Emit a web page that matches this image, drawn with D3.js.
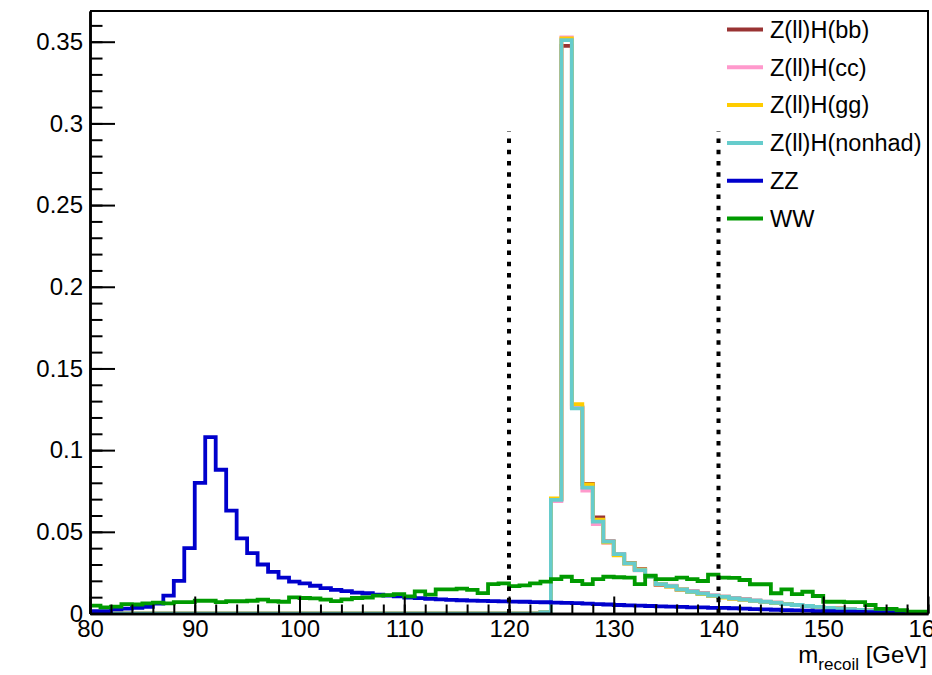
<!DOCTYPE html>
<html>
<head>
<meta charset="utf-8">
<script src="https://cdn.jsdelivr.net/npm/d3@7"></script>
<style>
  html, body { margin: 0; padding: 0; background: #fff; }
  svg { display: block; font-family: "Liberation Sans", Arial, Helvetica, sans-serif; }
</style>
</head>
<body>
<svg id="chart" width="932" height="675"></svg>
<script>
// Recoil-mass distributions, 1 GeV bins from 80 to 160 GeV (normalised)
const binEdgesLow = d3.range(80, 160, 1); // lower edge of every bin
const xMax = 160;

const zhBB = [
  0,0,0,0,0,0,0,0,0,0, 0,0,0,0,0,0,0,0,0,0, 0,0,0,0,0,0,0,0,0,0, 0,0,0,0,0,0,0,0,0,0, 0,0,0,
  0.0007,0.0698,0.3475,0.1262,0.0793,0.0588,0.0442,0.0362,0.0309,0.0272,0.0226,0.0176,0.0166,0.0146,0.0135,
  0.0123,0.0109,0.0103,0.0093,0.0086,0.0079,0.0071,0.0066,0.0059,0.0051,0.0047,0.0041,0.0035,0.0031,0.0026,
  0.0022,0.0019,0.0015,0.0012,0.0009,0.0007,0.0005
];
const zhCC = [
  0,0,0,0,0,0,0,0,0,0, 0,0,0,0,0,0,0,0,0,0, 0,0,0,0,0,0,0,0,0,0, 0,0,0,0,0,0,0,0,0,0, 0,0,0,
  0.0008,0.0688,0.3526,0.1258,0.0752,0.0548,0.0432,0.0362,0.0305,0.0264,0.0224,0.0179,0.0170,0.0150,0.0136,
  0.0121,0.0111,0.0101,0.0091,0.0085,0.0079,0.0072,0.0064,0.0058,0.0053,0.0046,0.0040,0.0034,0.0030,0.0026,
  0.0022,0.0018,0.0015,0.0012,0.0009,0.0006,0.0005
];
const zhGG = [
  0,0,0,0,0,0,0,0,0,0, 0,0,0,0,0,0,0,0,0,0, 0,0,0,0,0,0,0,0,0,0, 0,0,0,0,0,0,0,0,0,0, 0,0,0,
  0.0008,0.0705,0.3520,0.1282,0.0790,0.0575,0.0436,0.0356,0.0306,0.0268,0.0224,0.0179,0.0165,0.0147,0.0131,
  0.0119,0.0108,0.0098,0.0090,0.0084,0.0077,0.0071,0.0064,0.0057,0.0051,0.0046,0.0040,0.0034,0.0030,0.0025,
  0.0021,0.0018,0.0014,0.0011,0.0009,0.0007,0.0005
];
const zhNonhad = [
  0,0,0,0,0,0,0,0,0,0, 0,0,0,0,0,0,0,0,0,0, 0,0,0,0,0,0,0,0,0,0, 0,0,0,0,0,0,0,0,0,0, 0,0,0,
  0.0008,0.0695,0.3510,0.1256,0.0770,0.0562,0.0440,0.0364,0.0307,0.0266,0.0225,0.0180,0.0168,0.0148,0.0133,
  0.0122,0.0110,0.0102,0.0092,0.0085,0.0078,0.0072,0.0065,0.0058,0.0052,0.0046,0.0040,0.0035,0.0030,0.0026,
  0.0022,0.0018,0.0015,0.0012,0.0009,0.0007,0.0005
];
const zz = [
  0.0015,0.0015,0.0025,0.0030,0.0035,0.0040,0.0060,0.0110,0.0200,0.0400,
  0.0800,0.1080,0.0880,0.0630,0.0460,0.0370,0.0300,0.0255,0.0220,0.0195,
  0.0185,0.0170,0.0155,0.0145,0.0137,0.0128,0.0124,0.0115,0.0110,0.0105,
  0.0098,0.0094,0.0090,0.0086,0.0083,0.0081,0.0079,0.0077,0.0076,0.0074,
  0.0073,0.0072,0.0070,0.0069,0.0067,0.0065,0.0063,0.0060,0.0058,0.0055,
  0.0052,0.0050,0.0048,0.0046,0.0044,0.0042,0.0040,0.0038,0.0037,0.0035,
  0.0034,0.0032,0.0030,0.0027,0.0025,0.0023,0.0021,0.0019,0.0017,0.0015,
  0.0014,0.0012,0.0011,0.0010,0.0009,0.0007,0.0006,0.0005,0.0003,0.0002
];
const ww = [
  0.0048,0.0038,0.0042,0.0058,0.0055,0.0062,0.0066,0.0062,0.0070,0.0070,
  0.0078,0.0078,0.0070,0.0075,0.0075,0.0078,0.0085,0.0075,0.0072,0.0099,
  0.0095,0.0092,0.0085,0.0076,0.0087,0.0095,0.0098,0.0110,0.0113,0.0118,
  0.0105,0.0135,0.0115,0.0148,0.0148,0.0152,0.0145,0.0125,0.0180,0.0185,
  0.0168,0.0172,0.0185,0.0195,0.0210,0.0225,0.0199,0.0180,0.0210,0.0225,
  0.0222,0.0220,0.0180,0.0231,0.0210,0.0210,0.0219,0.0210,0.0199,0.0238,
  0.0219,0.0218,0.0205,0.0179,0.0179,0.0124,0.0148,0.0118,0.0133,0.0107,
  0.0072,0.0072,0.0070,0.0070,0.0052,0.0028,0.0028,0.0020,0.0011,0.0011
];

const seriesNames  = ["Z(ll)H(bb)", "Z(ll)H(cc)", "Z(ll)H(gg)", "Z(ll)H(nonhad)", "ZZ", "WW"];
const seriesColors = ["#993333", "#ff99cc", "#ffcc00", "#66cccc", "#0000cc", "#009a00"];
const seriesValues = [zhBB, zhCC, zhGG, zhNonhad, zz, ww];

const xMajorTicks = [80, 90, 100, 110, 120, 130, 140, 150, 160];
const xMinorTicks = d3.range(80, 161, 2);
const yMajorTicks = [0, 0.05, 0.1, 0.15, 0.2, 0.25, 0.3, 0.35];
const yTickLabels = ["0", "0.05", "0.1", "0.15", "0.2", "0.25", "0.3", "0.35"];
const yMinorTicks = d3.range(0, 37).map(i => i / 100);
const cutEdges = [120, 140];
const cutHeight = 0.295;

// ---- layout ----
const svg = d3.select("#chart");
const W = 932, H = 675;
const plot = { left: 90, right: 928, top: 11, bottom: 613.5 };

svg.append("rect").attr("width", W).attr("height", H).attr("fill", "#fff");

const x = d3.scaleLinear().domain([80, 160]).range([plot.left, plot.right]);
const y = d3.scaleLinear().domain([0, 0.3688]).range([plot.bottom, plot.top]);

svg.append("defs").append("clipPath").attr("id", "plotClip")
  .append("rect")
  .attr("x", plot.left).attr("y", plot.top - 2)
  .attr("width", plot.right - plot.left).attr("height", plot.bottom - plot.top + 2);

// ---- histograms (step lines) ----
const step = d3.line()
  .x(d => x(d[0]))
  .y(d => y(d[1]))
  .curve(d3.curveStepAfter);

const histG = svg.append("g").attr("clip-path", "url(#plotClip)");
seriesValues.forEach((vals, i) => {
  const pts = binEdgesLow.map((lo, k) => [lo, vals[k]]);
  pts.push([xMax, vals[vals.length - 1]]);
  histG.append("path")
    .attr("d", step(pts))
    .attr("fill", "none")
    .attr("stroke", seriesColors[i])
    .attr("stroke-width", 3.8)
    .attr("stroke-linejoin", "miter");
});

// ---- selection window ----
svg.append("g").selectAll("line").data(cutEdges).join("line")
  .attr("x1", d => x(d)).attr("x2", d => x(d))
  .attr("y1", y(0)).attr("y2", y(cutHeight))
  .attr("stroke", "#000")
  .attr("stroke-width", 4)
  .attr("stroke-dasharray", "4.5 6.7");

// ---- axes ----
const fmtY = d => yTickLabels[yMajorTicks.indexOf(d)];

const yMinorAxis = d3.axisLeft(y).tickValues(yMinorTicks).tickSize(-12.5).tickSizeOuter(0).tickFormat("");
const yMajorAxis = d3.axisLeft(y).tickValues(yMajorTicks).tickSize(-25).tickSizeOuter(0).tickPadding(7).tickFormat(fmtY);
const xMinorAxis = d3.axisBottom(x).tickValues(xMinorTicks).tickSize(-9).tickSizeOuter(0).tickFormat("");
const xMajorAxis = d3.axisBottom(x).tickValues(xMajorTicks).tickSize(-17).tickSizeOuter(0).tickPadding(6).tickFormat(d3.format("d"));

function styleAxis(g) {
  g.select(".domain").attr("stroke", "#000").attr("stroke-width", 2.5);
  g.selectAll(".tick line").attr("stroke", "#000").attr("stroke-width", 2);
  g.selectAll(".tick text").attr("fill", "#000").attr("font-size", 24)
    .attr("font-family", "'Liberation Sans', Arial, Helvetica, sans-serif");
}

svg.append("g").attr("transform", `translate(${plot.left},0)`).call(yMinorAxis).call(styleAxis);
svg.append("g").attr("transform", `translate(${plot.left},0)`).call(yMajorAxis).call(styleAxis);
svg.append("g").attr("transform", `translate(0,${plot.bottom})`).call(xMinorAxis).call(styleAxis);
svg.append("g").attr("transform", `translate(0,${plot.bottom})`).call(xMajorAxis).call(styleAxis);

// frame: top and right edges
svg.append("path")
  .attr("d", `M${plot.left},${plot.top}H${plot.right}V${plot.bottom}`)
  .attr("fill", "none").attr("stroke", "#000").attr("stroke-width", 2);

// ---- x-axis title ----
const xt = svg.append("text")
  .attr("x", 927).attr("y", 663)
  .attr("text-anchor", "end")
  .attr("font-size", 24)
  .attr("fill", "#000");
xt.append("tspan").text("m");
xt.append("tspan").attr("font-size", 17).attr("dy", 7).text("recoil");
xt.append("tspan").attr("dy", -7).text(" [GeV]");

// ---- legend ----
const legend = svg.append("g");
const rowY = i => 29.5 + i * 37.8;
seriesNames.forEach((name, i) => {
  legend.append("line")
    .attr("x1", 727).attr("x2", 763)
    .attr("y1", rowY(i)).attr("y2", rowY(i))
    .attr("stroke", seriesColors[i]).attr("stroke-width", 4);
  legend.append("text")
    .attr("x", 770).attr("y", rowY(i))
    .attr("dy", "0.35em")
    .attr("font-size", 23.5)
    .attr("fill", "#000")
    .text(name);
});
</script>
</body>
</html>
